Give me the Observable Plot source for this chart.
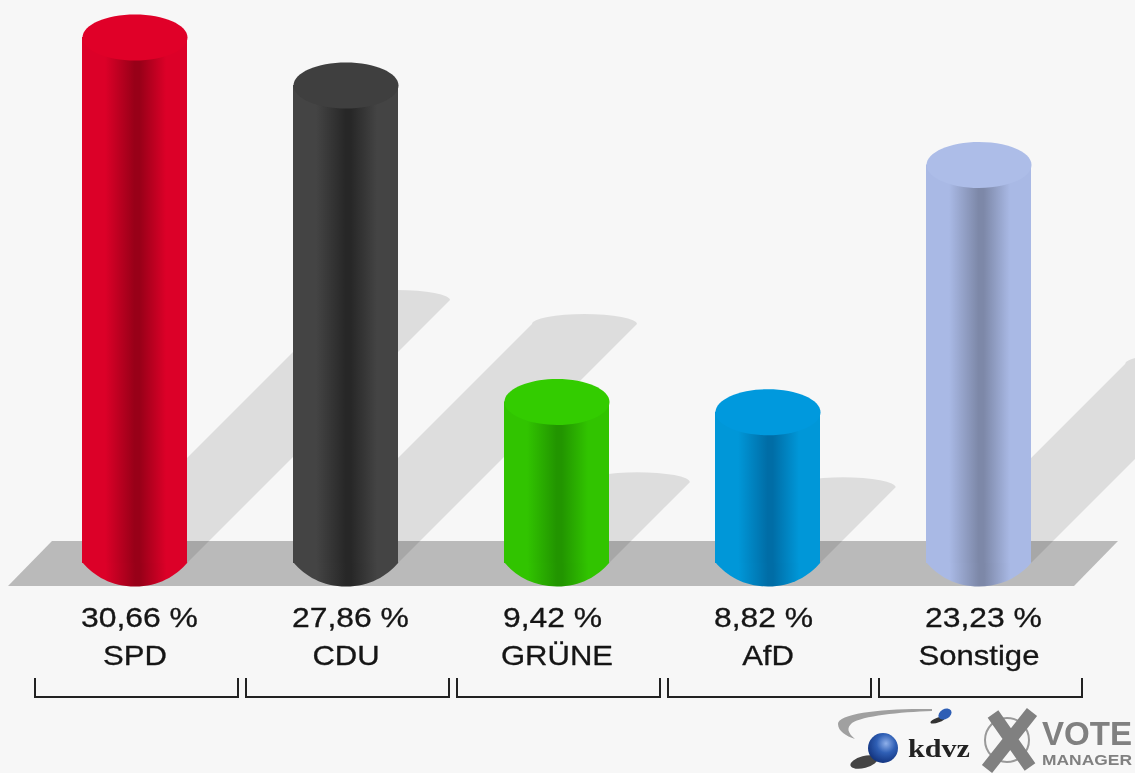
<!DOCTYPE html>
<html lang="de">
<head>
<meta charset="utf-8">
<title>Wahlergebnis</title>
<script src="https://cdn.jsdelivr.net/npm/d3@7"></script>
<script src="https://cdn.jsdelivr.net/npm/@observablehq/plot@0.6"></script>
<style>
  html, body { margin: 0; padding: 0; background: #f7f7f7; }
  svg { filter: blur(0.45px); }
</style>
</head>
<body>
<div id="chart"></div>
<script>
const parties = ["SPD", "CDU", "GRÜNE", "AfD", "Sonstige"];
const shares = [30.66, 27.86, 9.42, 8.82, 23.23];
const shareLabels = ["30,66 %", "27,86 %", "9,42 %", "8,82 %", "23,23 %"];
const edgeColors = ["#dc0028", "#444444", "#31c400", "#0097d8", "#a9b9e5"];
const darkColors = ["#980018", "#272727", "#229500", "#006da6", "#7d88a8"];
const capColors  = ["#e00028", "#3f3f3f", "#33cc00", "#0099dd", "#adbde8"];

const rows = parties.map((party, i) => ({party, share: shares[i], label: shareLabels[i], i}));

const RX = 52.5, RY = 23;      // cylinder radii in px
const ellipse = (rx, ry) => ({
  draw(ctx) {
    const k = 0.5523;
    ctx.moveTo(-rx, 0);
    ctx.bezierCurveTo(-rx, -ry * k, -rx * k, -ry, 0, -ry);
    ctx.bezierCurveTo(rx * k, -ry, rx, -ry * k, rx, 0);
    ctx.bezierCurveTo(rx, ry * k, rx * k, ry, 0, ry);
    ctx.bezierCurveTo(-rx * k, ry, -rx, ry * k, -rx, 0);
    ctx.closePath();
  }
});
// the foot of a cylinder meets its sides at a soft corner
const foot = (rx, ry) => ({
  draw(ctx) {
    ctx.moveTo(-rx, -1);
    ctx.bezierCurveTo(-rx * 0.78, ry * 0.55, -rx * 0.45, ry, 0, ry);
    ctx.bezierCurveTo(rx * 0.45, ry, rx * 0.78, ry * 0.55, rx, -1);
    ctx.closePath();
  }
});
const svgNS = "http://www.w3.org/2000/svg";
const group = () => d3.select(document.createElementNS(svgNS, "g"));

// floor parallelogram beneath the cylinders
function floorMark(index, {x, y}) {
  const g = group();
  const [x0, x1] = x.range();
  const base = y(0);
  g.append("path")
    .attr("d", `M${x0 + 23},${base - 22}L${x1 + 34},${base - 22}L${x1 - 10},${base + 23}L${x0 - 21},${base + 23}Z`)
    .attr("fill", "#bababa");
  return g.node();
}
// sheared cast shadow: half the cylinder height both along x and y
function shadowMark(index, {x, y}) {
  const g = group();
  const base = y(0);
  for (const r of rows) {
    const cx = x(r.party) + x.bandwidth() / 2;
    const s = (base - y(r.share)) / 2;
    g.append("path")
      .attr("d", `M${cx - RX},${base}L${cx - RX + s},${base - s}A${RX},10 0 0 1 ${cx + RX + s},${base - s}L${cx + RX},${base}Z`)
      .attr("fill", "#000").attr("fill-opacity", 0.1);
  }
  return g.node();
}
// category brackets under the labels
function bracketMark(index, {x, y}) {
  const g = group();
  const base = y(0);
  for (const p of parties) {
    const a = x(p) + 6, b = x(p) + x.bandwidth() - 2;
    g.append("path")
      .attr("d", `M${a},${base + 115}V${base + 134}H${b}V${base + 115}`)
      .attr("fill", "none").attr("stroke", "#222").attr("stroke-width", 2);
  }
  return g.node();
}
// vendor logo, bottom right
function logoMark() {
  const g = group().attr("text-anchor", "start");
  g.append("path").attr("d", "M932,709C885,708 838,713 838,724C838,731 846,736 855,739C848,733 846,728 852,723C862,716 900,712 932,711Z").attr("fill", "#a0a0a0");
  g.append("ellipse").attr("cx", 938).attr("cy", 720).attr("rx", 8).attr("ry", 2.5).attr("fill", "#333").attr("transform", "rotate(-20 938 720)");
  g.append("ellipse").attr("cx", 945).attr("cy", 714).attr("rx", 7).attr("ry", 5).attr("fill", "#2f5fb5").attr("transform", "rotate(-30 945 714)");
  g.append("ellipse").attr("cx", 864).attr("cy", 762).attr("rx", 14).attr("ry", 6).attr("fill", "#444").attr("transform", "rotate(-15 864 762)");
  g.append("circle").attr("cx", 883).attr("cy", 748).attr("r", 15).attr("fill", "url(#globe)");
  g.append("text").attr("x", 908).attr("y", 757).attr("font-family", "Liberation Serif").attr("font-weight", "bold").attr("font-size", 26)
    .attr("textLength", 62).attr("lengthAdjust", "spacingAndGlyphs").attr("fill", "#222").text("kdvz");
  g.append("circle").attr("cx", 1007).attr("cy", 740).attr("r", 22).attr("fill", "none").attr("stroke", "#999").attr("stroke-width", 2);
  g.append("path").attr("d", "M993,714L1030,767M1032,712L987,769").attr("stroke", "#808080").attr("stroke-width", 13).attr("fill", "none");
  g.append("text").attr("x", 1042).attr("y", 745).attr("font-family", "Liberation Sans").attr("font-weight", "bold").attr("font-size", 33)
    .attr("textLength", 90).attr("lengthAdjust", "spacingAndGlyphs").attr("fill", "#808080").text("VOTE");
  g.append("text").attr("x", 1042).attr("y", 765).attr("font-family", "Liberation Sans").attr("font-weight", "bold").attr("font-size", 14)
    .attr("textLength", 90).attr("lengthAdjust", "spacingAndGlyphs").attr("fill", "#808080").text("MANAGER");
  return g.node();
}
// the reference text is stretched horizontally
const stretch = (k) => (i, s, v, d, c, next) => {
  const g = next(i, s, v, d, c);
  d3.select(g).selectAll("text").attr("transform", function () {
    return (this.getAttribute("transform") || "") + ` scale(${k},1)`;
  });
  return g;
};

const textOpts = {x: "party", y: () => 0, fill: "#151515", stroke: "#151515", strokeWidth: 0.3, fontSize: 27, fontFamily: "Liberation Sans, Arial, sans-serif"};

const chart = Plot.plot({
  width: 1135,
  height: 773,
  margin: 0,
  style: {background: "#f7f7f7"},
  x: {axis: null, domain: parties, range: [29, 1084], padding: 0, round: false},
  y: {axis: null, domain: [0, 30.66], range: [563, 37]},
  color: {type: "identity"},
  marks: [
    floorMark,
    shadowMark,
    Plot.dot(rows, {x: "party", y: () => 0, r: 1, symbol: foot(RX, RY), fill: (d) => `url(#body${d.i})`}),
    Plot.barY(rows, {x: "party", y: "share", insetLeft: 53, insetRight: 53, fill: (d) => `url(#body${d.i})`}),
    Plot.dot(rows, {x: "party", y: "share", r: 1, symbol: ellipse(RX, RY), fill: (d) => capColors[d.i]}),
    // share labels start at the left edge of their cylinder
    Plot.text(rows, {...textOpts, text: "label", dy: 55, dx: -54, textAnchor: "start", render: stretch(1.18)}),
    Plot.text(rows, {...textOpts, text: "party", dy: 93, render: stretch(1.15)}),
    bracketMark,
    logoMark
  ]
});

const defs = d3.select(chart).insert("defs", ":first-child");
parties.forEach((_, i) => {
  const grad = defs.append("linearGradient").attr("id", `body${i}`).attr("x1", 0).attr("x2", 1).attr("y1", 0).attr("y2", 0);
  [[0, edgeColors[i]], [0.22, edgeColors[i]], [0.5, darkColors[i]], [0.55, darkColors[i]], [0.8, edgeColors[i]], [1, edgeColors[i]]]
    .forEach(([o, c]) => grad.append("stop").attr("offset", o).attr("stop-color", c));
});
const globe = defs.append("radialGradient").attr("id", "globe").attr("cx", 0.6).attr("cy", 0.35).attr("r", 0.7);
globe.append("stop").attr("offset", 0).attr("stop-color", "#8fb0ea");
globe.append("stop").attr("offset", 0.45).attr("stop-color", "#2f5fb5");
globe.append("stop").attr("offset", 1).attr("stop-color", "#10307a");

document.getElementById("chart").append(chart);
</script>
</body>
</html>
